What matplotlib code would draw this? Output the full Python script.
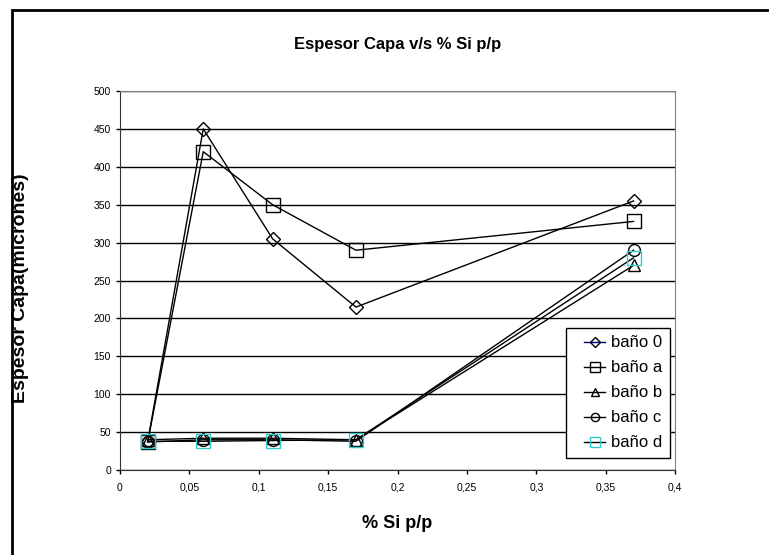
import matplotlib
matplotlib.use("Agg")
import matplotlib.pyplot as plt
from matplotlib.patches import Rectangle
from matplotlib.lines import Line2D
from matplotlib.legend_handler import HandlerLine2D

plt.rcParams['font.family'] = ['Liberation Sans', 'DejaVu Sans']

# % Si p/p content and layer thickness (microns) per bath
si = [0.02, 0.06, 0.11, 0.17, 0.37]
bano_0 = [38, 450, 305, 215, 355]
bano_a = [37, 420, 350, 290, 328]
bano_b = [40, 42, 42, 40, 270]
bano_c = [37, 40, 40, 38, 290]
bano_d = [38, 38, 39, 40, 280]

series = [
    ("baño 0", bano_0, "D", "black"),
    ("baño a", bano_a, "s", "black"),
    ("baño b", bano_b, "^", "black"),
    ("baño c", bano_c, "o", "black"),
    ("baño d", bano_d, "s", "#33cccc"),
]
sizes = {"D": 7.5, "s": 10.5, "^": 8.5, "o": 8.5}

fig = plt.figure(figsize=(7.69, 5.55), dpi=100)
ax = fig.add_axes([0.156, 0.153, 0.722, 0.683])

# outer chart frame
fig.patches.append(Rectangle((12 / 769, -0.01), 1.0, 1 - 10 / 555 + 0.01,
                             transform=fig.transFigure, fill=False,
                             edgecolor="black", linewidth=2, zorder=0))

for label, ys, mk, mc in series:
    ax.plot(si, ys, color="black", linewidth=1, marker=mk,
            markersize=sizes[mk], markerfacecolor="none",
            markeredgecolor=mc, markeredgewidth=1, label=label, zorder=3)

ax.set_xlim(0, 0.4)
ax.set_ylim(0, 500)
ax.set_xticks([0, 0.05, 0.1, 0.15, 0.2, 0.25, 0.3, 0.35, 0.4])
ax.set_xticklabels(["0", "0,05", "0,1", "0,15", "0,2", "0,25", "0,3", "0,35", "0,4"])
ax.set_yticks(range(0, 501, 50))
ax.tick_params(labelsize=7.5, direction="out", length=3, width=1)
ax.tick_params(axis="x", pad=6)
ax.yaxis.grid(True, color="black", linewidth=1)
ax.set_axisbelow(True)
for side in ("top", "right"):
    ax.spines[side].set_color("#808080")
for side in ("left", "bottom"):
    ax.spines[side].set_color("#333333")

ax.set_title("Espesor Capa v/s % Si p/p", fontsize=12, fontweight="bold", pad=30)
ax.set_xlabel("% Si p/p", fontsize=13, fontweight="bold", labelpad=16)
fig.text(21 / 769, 1 - 288 / 555, "Espesor Capa(micrones)", rotation=90,
         fontsize=14, fontweight="bold", ha="center", va="center")

# legend handles get some extra room on their left
leg = ax.legend(loc="lower right", bbox_to_anchor=(0.991, 0.032), borderaxespad=0,
                fontsize=12, frameon=True, fancybox=False, edgecolor="black",
                framealpha=1, handlelength=1.9, handletextpad=0.36,
                borderpad=0.45, labelspacing=0.6, markerscale=0.7,
                handler_map={Line2D: HandlerLine2D(xpad=0.63)})
leg.get_frame().set_linewidth(1)
leg.get_lines()[0].set_color("navy")

fig.savefig("out.png", dpi=100)
